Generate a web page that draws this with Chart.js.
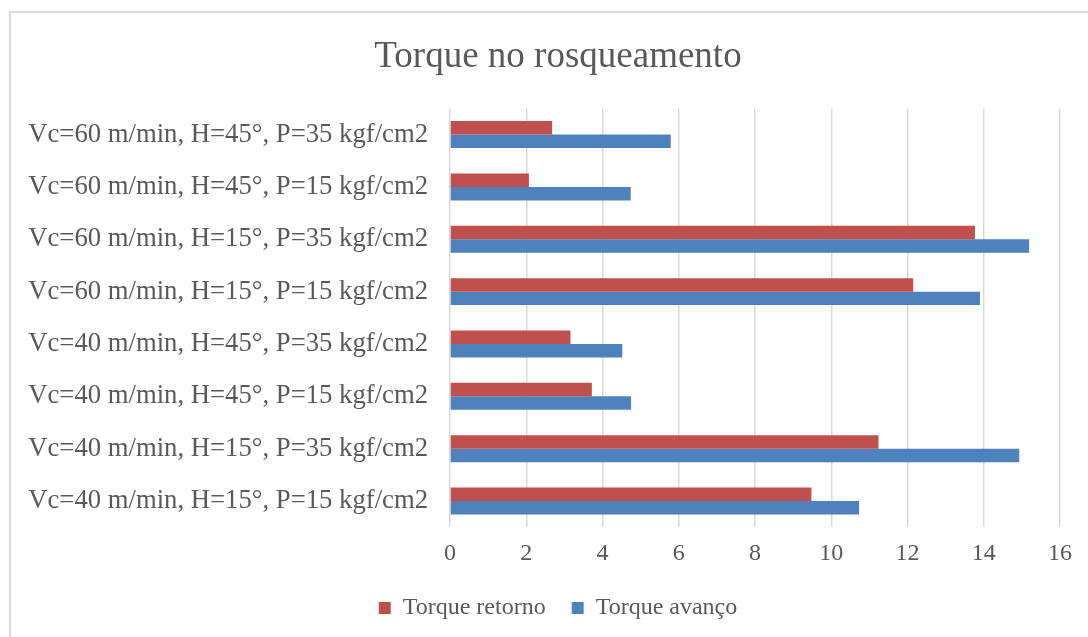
<!DOCTYPE html>
<html>
<head>
<meta charset="utf-8">
<script src="https://cdn.jsdelivr.net/npm/chart.js@4/dist/chart.umd.min.js"></script>
<style>
  html, body { margin: 0; padding: 0; width: 1088px; height: 637px; overflow: hidden; background: #fff; }
  #box { position: absolute; left: 9px; top: 11px; width: 1094px; height: 640px; border: 2px solid #d9d9d9; }
  #box canvas { display: block; }
</style>
</head>
<body>
<div id="box"><canvas id="c"></canvas></div>
<script>
const categories = [
  "Vc=60 m/min, H=45°, P=35 kgf/cm2",
  "Vc=60 m/min, H=45°, P=15 kgf/cm2",
  "Vc=60 m/min, H=15°, P=35 kgf/cm2",
  "Vc=60 m/min, H=15°, P=15 kgf/cm2",
  "Vc=40 m/min, H=45°, P=35 kgf/cm2",
  "Vc=40 m/min, H=45°, P=15 kgf/cm2",
  "Vc=40 m/min, H=15°, P=35 kgf/cm2",
  "Vc=40 m/min, H=15°, P=15 kgf/cm2"
];
const torqueRetorno = [2.68, 2.07, 13.77, 12.15, 3.16, 3.72, 11.24, 9.48];
const torqueAvanco  = [5.79, 4.74, 15.19, 13.90, 4.52, 4.75, 14.93, 10.73];
const seriesNames = ["Torque retorno", "Torque avanço"];
const xTicks = [0, 2, 4, 6, 8, 10, 12, 14, 16];

const FONT = "'Liberation Serif', 'Times New Roman', serif";
const GREY = "#595959";

new Chart(document.getElementById('c'), {
  type: 'bar',
  data: {
    labels: categories,
    datasets: [
      { label: seriesNames[0], data: torqueRetorno, backgroundColor: '#C0504D', borderWidth: 0 },
      { label: seriesNames[1], data: torqueAvanco, backgroundColor: '#4F81BD', borderWidth: 0 }
    ]
  },
  options: {
    indexAxis: 'y',
    responsive: true,
    maintainAspectRatio: false,
    animation: false,
    categoryPercentage: 0.514,
    barPercentage: 1.0,
    layout: { padding: { left: 0, right: 0, top: 0, bottom: 23 } },
    plugins: {
      title: {
        display: true,
        text: 'Torque no rosqueamento',
        color: GREY,
        font: { family: FONT, size: 37, weight: 'normal' },
        padding: { top: 22, bottom: 29 }
      },
      legend: {
        display: true,
        position: 'bottom',
        labels: {
          color: GREY,
          font: { family: FONT, size: 24 },
          boxWidth: 12,
          boxHeight: 12,
          padding: 26
        }
      },
      tooltip: { enabled: false }
    },
    scales: {
      x: {
        min: 0,
        max: 16,
        afterBuildTicks: (s) => { s.ticks = xTicks.map(v => ({ value: v })); },
        grid: { color: '#d9d9d9', lineWidth: 1.5, drawTicks: false },
        border: { display: false },
        ticks: { color: GREY, font: { family: FONT, size: 24 }, padding: 12.5 },
        afterFit: (s) => { s.height = s.height - 11; }
      },
      y: {
        grid: { display: false, drawTicks: false },
        border: { display: false },
        ticks: { color: GREY, font: { family: FONT, size: 26.7 }, padding: 22 },
        afterFit: (s) => { s.width = 439; }
      },
      yRight: {
        axis: 'y',
        type: 'category',
        position: 'right',
        grid: { display: false, drawTicks: false },
        border: { display: false },
        ticks: { display: false },
        afterFit: (s) => { s.width = 45; }
      }
    }
  }
});
</script>
</body>
</html>
